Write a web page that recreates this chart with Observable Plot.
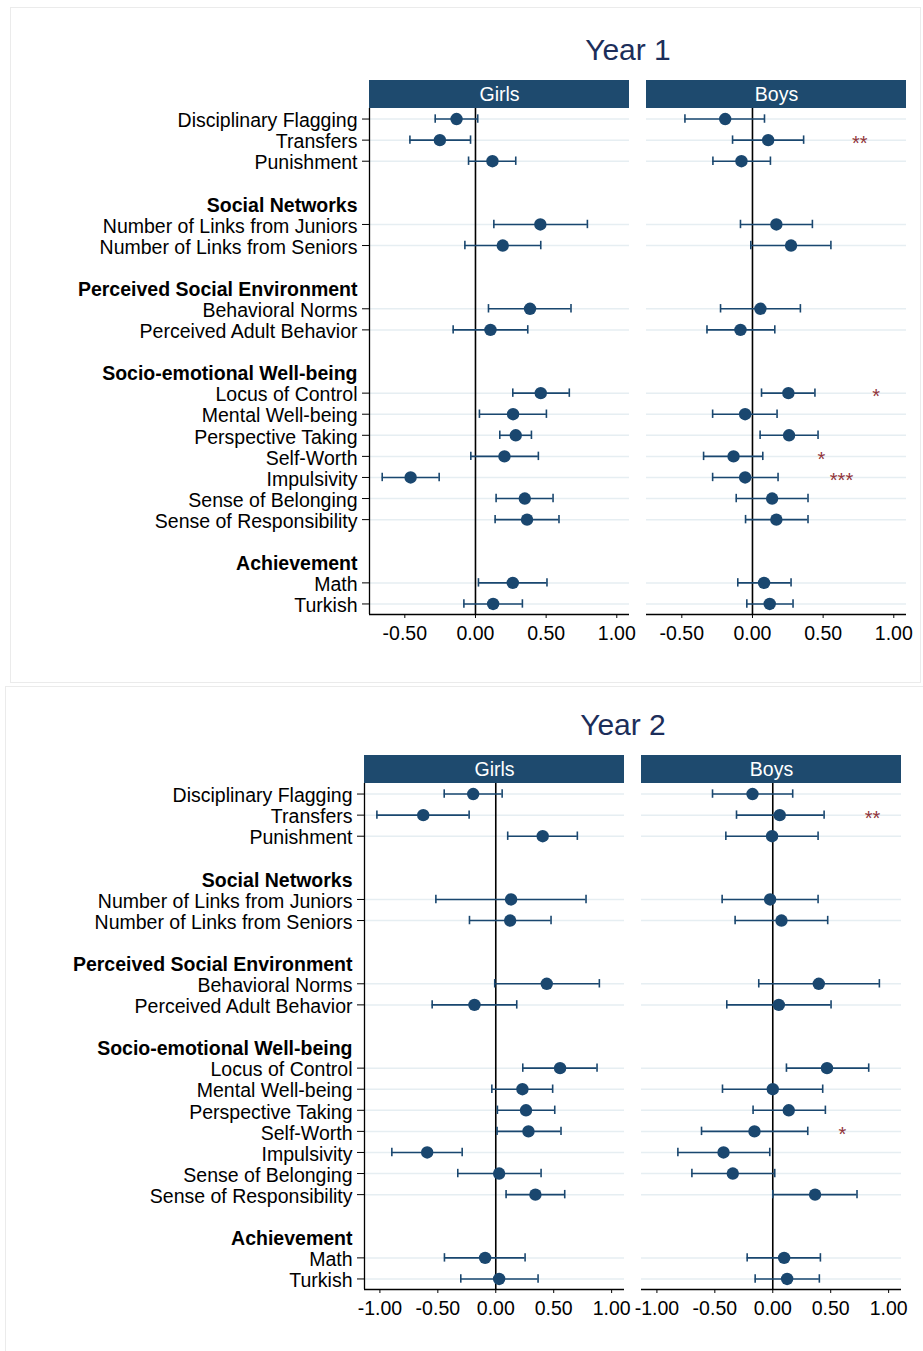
<!DOCTYPE html>
<html><head><meta charset="utf-8">
<script src="https://cdn.jsdelivr.net/npm/d3@7"></script>
<script src="https://cdn.jsdelivr.net/npm/@observablehq/plot@0.6"></script>
<style>
body{margin:0;background:#fff;font-family:"Liberation Sans",Arial,Helvetica,sans-serif;}
#page{position:relative;width:923px;height:1351px;overflow:hidden;background:#fff;}
.box{position:absolute;border:1px solid #ebebeb;box-sizing:border-box;}
.title{position:absolute;width:240px;text-align:center;font-size:30px;line-height:30px;color:#1c2e5a;}
.chart{position:absolute;}
</style></head><body><div id="page"></div>
<script>
// Row layout (blank strings are spacer rows)
const rowLabels = ["Disciplinary Flagging","Transfers","Punishment","",
  "Social Networks","Number of Links from Juniors","Number of Links from Seniors","",
  "Perceived Social Environment","Behavioral Norms","Perceived Adult Behavior","",
  "Socio-emotional Well-being","Locus of Control","Mental Well-being","Perspective Taking","Self-Worth","Impulsivity","Sense of Belonging","Sense of Responsibility","",
  "Achievement","Math","Turkish"];
const headers = ["Social Networks","Perceived Social Environment","Socio-emotional Well-being","Achievement"];
const outcomes = ["Disciplinary Flagging","Transfers","Punishment","Number of Links from Juniors","Number of Links from Seniors",
  "Behavioral Norms","Perceived Adult Behavior","Locus of Control","Mental Well-being","Perspective Taking","Self-Worth",
  "Impulsivity","Sense of Belonging","Sense of Responsibility","Math","Turkish"];
const sexes = ["Girls","Boys"];

// Year 1
const y1GirlsEst = [-0.134,-0.252,0.120,0.459,0.193,0.386,0.106,0.462,0.266,0.285,0.205,-0.459,0.349,0.365,0.264,0.125];
const y1GirlsLo  = [-0.285,-0.464,-0.049,0.130,-0.075,0.092,-0.158,0.264,0.028,0.172,-0.033,-0.660,0.146,0.139,0.021,-0.082];
const y1GirlsHi  = [0.016,-0.035,0.285,0.792,0.462,0.676,0.370,0.664,0.502,0.396,0.445,-0.257,0.549,0.591,0.506,0.332];
const y1BoysEst  = [-0.193,0.111,-0.078,0.169,0.273,0.056,-0.085,0.254,-0.052,0.259,-0.134,-0.052,0.139,0.169,0.082,0.122];
const y1BoysLo   = [-0.478,-0.141,-0.280,-0.085,-0.012,-0.226,-0.322,0.064,-0.282,0.054,-0.346,-0.282,-0.115,-0.049,-0.104,-0.040];
const y1BoysHi   = [0.085,0.362,0.127,0.424,0.555,0.339,0.158,0.442,0.174,0.464,0.073,0.181,0.393,0.393,0.273,0.287];
const y1StarOutcomes = ["Transfers","Locus of Control","Self-Worth","Impulsivity"];
const y1StarText = ["**","*","*","***"];
const y1StarX = [0.76,0.875,0.487,0.63];
const y1XDomain = [-0.75,1.09];
const y1Ticks = [-0.5,0,0.5,1];

// Year 2
const y2GirlsEst = [-0.195,-0.626,0.405,0.132,0.124,0.440,-0.184,0.555,0.230,0.261,0.282,-0.592,0.029,0.342,-0.092,0.029];
const y2GirlsLo  = [-0.445,-1.026,0.103,-0.517,-0.227,-0.009,-0.549,0.233,-0.034,0.014,0.011,-0.897,-0.328,0.089,-0.443,-0.302];
const y2GirlsHi  = [0.055,-0.230,0.704,0.779,0.477,0.894,0.181,0.874,0.491,0.509,0.563,-0.290,0.391,0.595,0.253,0.365];
const y2BoysEst  = [-0.175,0.060,-0.006,-0.023,0.075,0.397,0.052,0.468,0.000,0.138,-0.158,-0.425,-0.345,0.365,0.098,0.124];
const y2BoysLo   = [-0.520,-0.313,-0.405,-0.437,-0.325,-0.121,-0.397,0.118,-0.434,-0.170,-0.615,-0.819,-0.698,0.000,-0.221,-0.152];
const y2BoysHi   = [0.172,0.443,0.391,0.391,0.474,0.920,0.503,0.828,0.431,0.454,0.302,-0.026,0.017,0.727,0.411,0.402];
const y2StarOutcomes = ["Transfers","Self-Worth"];
const y2StarText = ["**","*"];
const y2StarX = [0.86,0.60];
const y2XDomain = [-1.133,1.111];
const y2Ticks = [-1,-0.5,0,0.5,1];

const NAVY = "#1a476f", STRIP = "#1e4a6e", STAR = "#90353b", GRID = "#e6eef2";
const FONT = "Liberation Sans, Arial, Helvetica, sans-serif";

function buildRows(sex, est, lo, hi) {
  return outcomes.map((o, i) => ({sex, outcome: o, row: rowLabels.indexOf(o), est: est[i], lo: lo[i], hi: hi[i]}));
}

function yearPlot(data, stars, xDomain, xTicks) {
  const nRows = rowLabels.length;
  const marginTop = 38, marginBottom = 40, height = 584;
  const rowStep = (height - marginTop - marginBottom) / nRows;
  const outcomeRows = outcomes.map(o => rowLabels.indexOf(o));
  const headerRows = headers.map(h => rowLabels.indexOf(h));
  return Plot.plot({
    width: 910, height, marginLeft: 358.5, marginRight: 14, marginTop, marginBottom,
    style: {fontFamily: FONT, background: "transparent", color: "black"},
    fx: {domain: sexes, paddingInner: 0.0596, paddingOuter: 0, axis: null, label: null},
    x: {domain: xDomain},
    y: {domain: [nRows - 0.5, -0.5], axis: null},
    marks: [
      Plot.ruleY(outcomeRows, {y: d => d, stroke: GRID, strokeWidth: 1.5}),
      Plot.rect(sexes, {fx: d => d, x1: () => xDomain[0], x2: () => xDomain[1], y1: () => -0.5, y2: () => -0.5 - 28 / rowStep, fill: STRIP}),
      Plot.text(sexes, {fx: d => d, frameAnchor: "top", lineAnchor: "middle", dy: -14, text: d => d, fill: "white", fontSize: 19.5}),
      Plot.ruleX([0], {stroke: "black", strokeWidth: 1.6}),
      Plot.ruleX(["Girls"], {fx: d => d, x: () => xDomain[0], stroke: "black", strokeWidth: 1.3}),
      Plot.ruleY([nRows - 0.5], {stroke: "black", strokeWidth: 1.3}),
      Plot.ruleY(data, {fx: "sex", y: "row", x1: "lo", x2: "hi", stroke: NAVY, strokeWidth: 1.6}),
      Plot.ruleX(data, {fx: "sex", x: "lo", y1: d => d.row - 0.2, y2: d => d.row + 0.2, stroke: NAVY, strokeWidth: 1.6}),
      Plot.ruleX(data, {fx: "sex", x: "hi", y1: d => d.row - 0.2, y2: d => d.row + 0.2, stroke: NAVY, strokeWidth: 1.6}),
      Plot.dot(data, {fx: "sex", x: "est", y: "row", r: 6.2, fill: NAVY}),
      Plot.text(stars, {fx: () => "Boys", x: "x", y: "row", text: "text", fill: STAR, fontSize: 20, dy: 3}),
      Plot.axisY(outcomeRows, {tickFormat: () => "", tickSize: 7, label: null, stroke: "black"}),
      Plot.axisY(outcomeRows, {tickFormat: i => rowLabels[i], tickSize: 0, tickPadding: 12, dy: 2, fontSize: 19.5, label: null, fill: "black"}),
      Plot.axisY(headerRows, {tickFormat: i => rowLabels[i], tickSize: 0, tickPadding: 12, dy: 2, fontSize: 19.5, fontWeight: "bold", label: null, fill: "black"}),
      Plot.axisX({ticks: xTicks, tickFormat: d => d.toFixed(2), tickSize: 4, tickPadding: 8, fontSize: 19.5, label: null, stroke: "black", fill: "black"})
    ]
  });
}

function buildStars(outs, texts, xs) {
  return outs.map((o, i) => ({row: rowLabels.indexOf(o), text: texts[i], x: xs[i]}));
}

const page = document.getElementById("page");
function addBox(l, t, w, h) {
  const b = document.createElement("div");
  b.className = "box";
  Object.assign(b.style, {left: l + "px", top: t + "px", width: w + "px", height: h + "px"});
  page.appendChild(b);
}
function addYear(title, dx, dy, data, stars, xDomain, xTicks) {
  const t = document.createElement("div");
  t.className = "title";
  t.textContent = title;
  Object.assign(t.style, {left: (628 - 120 + dx) + "px", top: (35 + dy) + "px"});
  page.appendChild(t);
  const c = document.createElement("div");
  c.className = "chart";
  Object.assign(c.style, {left: (10 + dx) + "px", top: (70 + dy) + "px"});
  c.appendChild(yearPlot(data, stars, xDomain, xTicks));
  page.appendChild(c);
}

addBox(10, 7, 911, 676);
addBox(5, 686, 920, 670);

const data1 = buildRows("Girls", y1GirlsEst, y1GirlsLo, y1GirlsHi).concat(buildRows("Boys", y1BoysEst, y1BoysLo, y1BoysHi));
const data2 = buildRows("Girls", y2GirlsEst, y2GirlsLo, y2GirlsHi).concat(buildRows("Boys", y2BoysEst, y2BoysLo, y2BoysHi));
addYear("Year 1", 0, 0, data1, buildStars(y1StarOutcomes, y1StarText, y1StarX), y1XDomain, y1Ticks);
addYear("Year 2", -5, 675, data2, buildStars(y2StarOutcomes, y2StarText, y2StarX), y2XDomain, y2Ticks);
</script>
</body></html>
